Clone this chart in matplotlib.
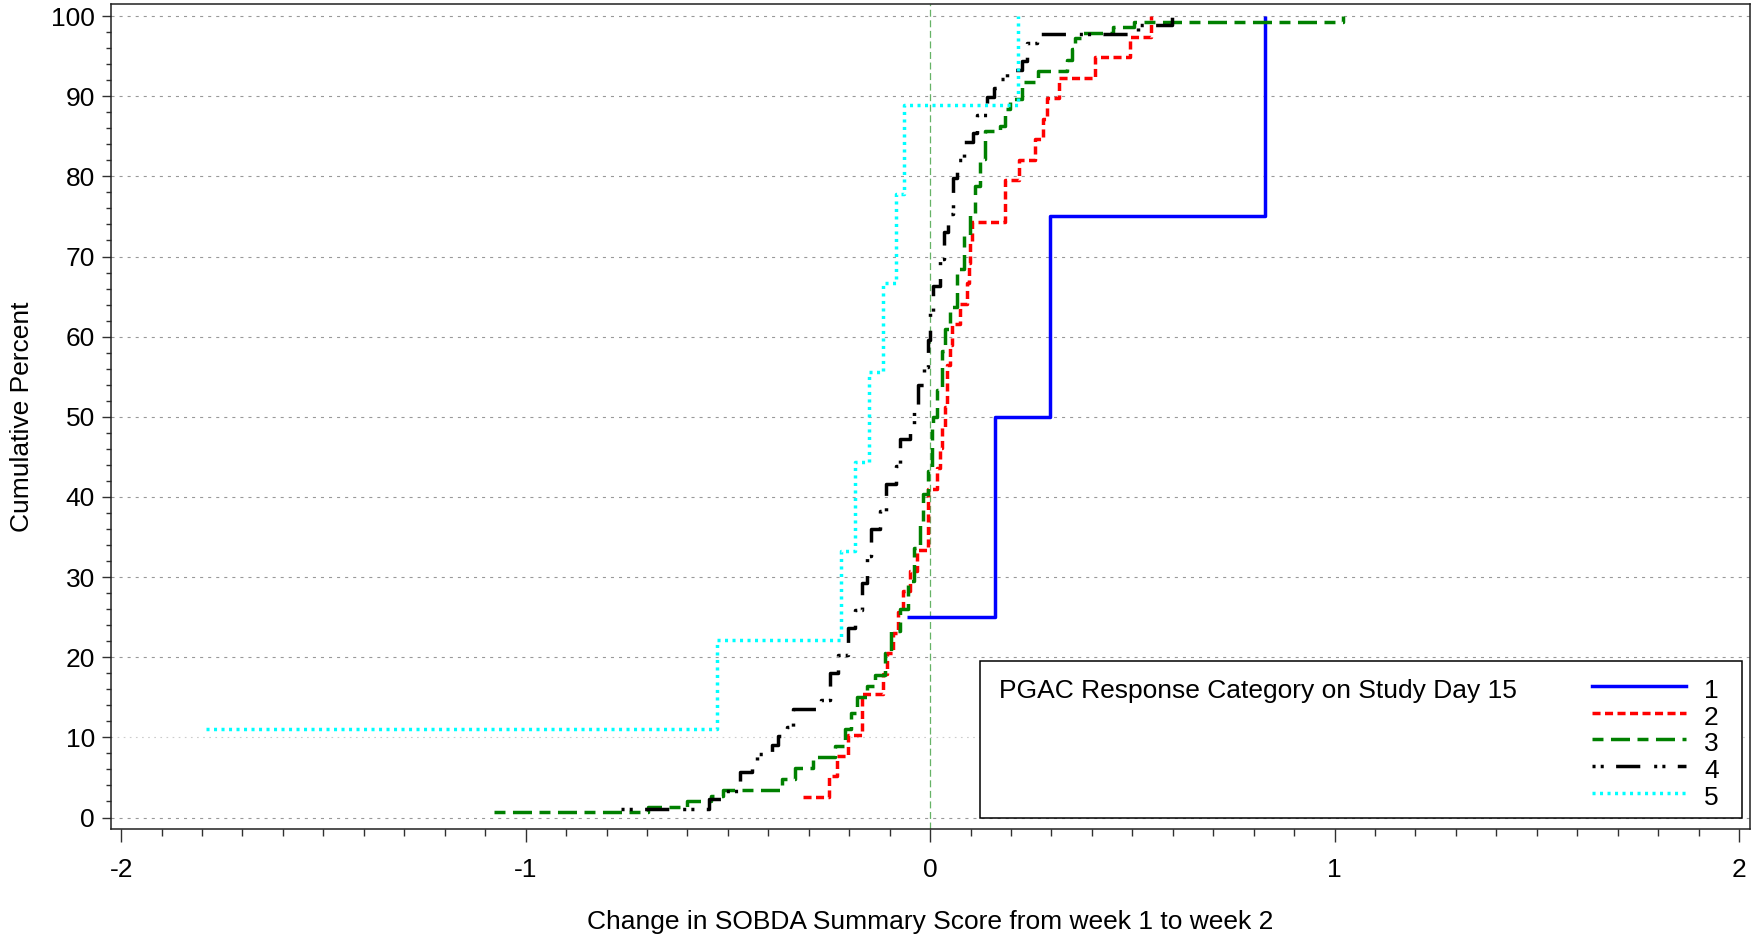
import numpy as np
import matplotlib
matplotlib.use('Agg')
import matplotlib.pyplot as plt
from matplotlib.ticker import MultipleLocator
from matplotlib.patches import Rectangle

plt.rcParams['font.family'] = ['Liberation Sans', 'DejaVu Sans']
plt.rcParams['axes.unicode_minus'] = False
plt.rcParams['lines.scale_dashes'] = False

# cumulative percent curves
x1 = [-0.058, 0.161, 0.297, 0.827]
y1 = [25, 50, 75, 100]

x2 = [-0.314, -0.250, -0.230, -0.202, -0.169, -0.116, -0.107, -0.092, -0.080, -0.066,
      -0.050, -0.033, -0.005, 0.017, 0.025, 0.029, 0.036, 0.041, 0.048, 0.053,
      0.074, 0.091, 0.095, 0.099, 0.104, 0.186, 0.219, 0.260, 0.280, 0.289,
      0.318, 0.408, 0.495, 0.545]
y2 = [2.56, 5.13, 7.69, 10.26, 15.38, 17.95, 20.51, 23.08, 25.64, 28.21,
      30.77, 33.33, 41.03, 43.59, 46.15, 48.72, 51.28, 56.41, 58.97, 61.54,
      64.10, 66.67, 69.23, 71.79, 74.36, 79.49, 82.05, 84.62, 87.18, 89.74,
      92.31, 94.87, 97.44, 100.0]

x3 = [-1.077, -0.698, -0.600, -0.542, -0.512, -0.366, -0.334, -0.290, -0.235, -0.210,
      -0.195, -0.180, -0.157, -0.137, -0.112, -0.096, -0.075, -0.054, -0.040, -0.025,
      -0.017, -0.005, 0.004, 0.008, 0.017, 0.029, 0.037, 0.050, 0.066, 0.083,
      0.099, 0.111, 0.124, 0.136, 0.173, 0.186, 0.198, 0.227, 0.268, 0.338,
      0.352, 0.359, 0.375, 0.453, 0.503, 1.020]
y3 = [0.68, 1.37, 2.05, 2.74, 3.42, 4.79, 6.16, 7.53, 8.90, 11.0,
      13.0, 15.07, 16.4, 17.8, 20.5, 23.3, 26.0, 29.5, 33.6, 37.0,
      40.4, 43.2, 48.6, 50.0, 53.4, 58.2, 61.0, 63.7, 68.5, 72.6,
      75.3, 78.8, 82.2, 85.6, 86.3, 88.4, 89.7, 91.8, 93.2, 94.5,
      95.9, 97.3, 97.9, 98.6, 99.3, 100.0]

x4 = [-0.765, -0.547, -0.512, -0.470, -0.440, -0.427, -0.390, -0.375, -0.355, -0.338,
      -0.270, -0.248, -0.228, -0.203, -0.185, -0.168, -0.155, -0.145, -0.124, -0.110,
      -0.085, -0.074, -0.050, -0.040, -0.030, -0.015, -0.006, 0.000, 0.008, 0.025,
      0.035, 0.045, 0.057, 0.066, 0.083, 0.107, 0.115, 0.140, 0.159, 0.170,
      0.190, 0.227, 0.240, 0.264, 0.515, 0.597]
y4 = [1.12, 2.25, 3.37, 5.62, 6.74, 7.87, 8.99, 10.11, 11.24, 13.48,
      14.61, 17.98, 20.22, 23.60, 25.84, 29.21, 32.58, 35.96, 38.20, 41.57,
      43.82, 47.19, 48.31, 50.56, 53.93, 56.18, 59.55, 62.92, 66.29, 69.66,
      73.03, 75.28, 79.78, 82.02, 84.27, 85.39, 87.64, 89.89, 91.01, 92.13,
      93.26, 94.38, 96.63, 97.75, 98.88, 100.0]

x5 = [-1.79, -0.527, -0.220, -0.186, -0.151, -0.117, -0.084, -0.064, 0.218]
y5 = [11.1, 22.2, 33.3, 44.4, 55.6, 66.7, 77.8, 88.9, 100]

labels = ['1', '2', '3', '4', '5']
legend_title = 'PGAC Response Category on Study Day 15'

styles = [
    dict(color='#0000ff', linestyle='-'),
    dict(color='#ff0000', linestyle=(0, (5.8, 3.2))),
    dict(color='#008000', linestyle=(0, (7.9, 5.4, 13.7, 5.4))),
    dict(color='#000000', linestyle=(0, (2.2, 3.7, 2.2, 8.9, 17.4, 10.0))),
    dict(color='#00ffff', linestyle=(0, (2.2, 3.2))),
]
series = [(x1, y1), (x2, y2), (x3, y3), (x4, y4), (x5, y5)]

fs = 19

fig = plt.figure(figsize=(17.54, 9.4), dpi=100)
ax = fig.add_axes([0.0633, 0.1181, 0.9977 - 0.0633, 0.9957 - 0.1181])

for (xs, ys), st in zip(series, styles):
    ax.step(xs, ys, where='post', lw=2.5, dash_capstyle='butt', solid_capstyle='butt', **st)

ax.axvline(0, color='#66b366', lw=0.9, linestyle=(0, (5, 2.6)), zorder=1)

ax.set_xlim(-2.025, 2.027)
ax.set_ylim(-1.43, 101.5)
ax.xaxis.set_major_locator(MultipleLocator(1))
ax.xaxis.set_minor_locator(MultipleLocator(0.1))
ax.yaxis.set_major_locator(MultipleLocator(10))
ax.yaxis.set_minor_locator(MultipleLocator(2))
ax.tick_params(axis='both', which='both', direction='out', colors='#303030', labelcolor='black')
ax.tick_params(axis='x', which='major', length=9.1, width=1, labelsize=fs, pad=12)
ax.tick_params(axis='x', which='minor', length=4.8, width=1)
ax.tick_params(axis='y', which='major', length=6.7, width=1, labelsize=fs, pad=5)
ax.tick_params(axis='y', which='minor', length=3.6, width=1)

ax.yaxis.grid(True, which='major', color='#999999', lw=0.8, linestyle=(0, (2.2, 3.6)))
for gl, t in zip(ax.yaxis.get_gridlines(), ax.get_yticks()):
    if abs(t - 10) < 1e-6:
        gl.set_color('#cccccc')
        gl.set_linestyle((0, (1.2, 3.2)))
ax.set_axisbelow(True)

for sp in ax.spines.values():
    sp.set_color('#202020')
    sp.set_linewidth(1.1)

ax.set_xlabel('Change in SOBDA Summary Score from week 1 to week 2', fontsize=fs)
ax.set_ylabel('Cumulative Percent', fontsize=fs)
ax.xaxis.set_label_coords(0.5, -0.1127)
ax.xaxis.label.set_va('center')
ax.yaxis.set_label_coords(-0.0545, 0.5)
ax.yaxis.label.set_va('center')

# legend box drawn by hand
ax.add_patch(Rectangle((0.530, 0.0133), 0.465, 0.1903, transform=ax.transAxes,
                       facecolor='white', edgecolor='black', lw=1.1, zorder=5))
ax.text(0.542, 0.167, legend_title, transform=ax.transAxes, fontsize=fs,
        va='center', ha='left', zorder=6)
rows = [0.1737, 0.1411, 0.1085, 0.0760, 0.0434]
for lab, st, ry in zip(labels, styles, rows):
    ax.plot([0.9036, 0.961], [ry, ry], transform=ax.transAxes, lw=2.5,
            dash_capstyle='butt', zorder=6, **st)
    ax.text(0.9765, ry - 0.006, lab, transform=ax.transAxes, fontsize=fs,
            va='center', ha='center', zorder=6)

fig.savefig('out.png', dpi=100)
